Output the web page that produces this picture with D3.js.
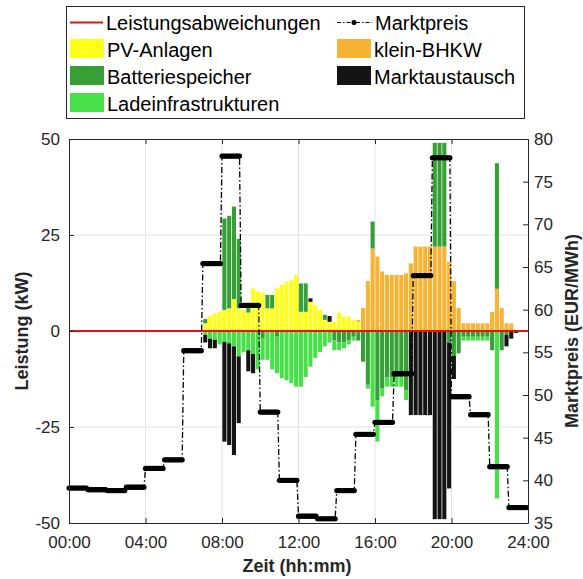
<!DOCTYPE html>
<html>
<head>
<meta charset="utf-8">
<script src="https://cdn.jsdelivr.net/npm/d3@7"></script>
<style>
  body { margin: 0; background: #fff; }
  svg { display: block; font-family: Arial, "Liberation Sans", sans-serif; }
</style>
</head>
<body>
<div class="chart"></div>
<script>
// axis ticks
const zeitTicks = [0, 4, 8, 12, 16, 20, 24];
const leistungTicks = [-50, -25, 0, 25, 50];
const preisTicks = [35, 40, 45, 50, 55, 60, 65, 70, 75, 80];

// market price per hour (EUR/MWh)
const marktpreis = [39.1, 38.9, 38.8, 39.2, 41.4, 42.4, 55.2, 65.4, 78.0, 60.5, 48.0, 40.0,
    35.8, 35.5, 38.8, 45.4, 46.8, 52.5, 64.0, 77.8, 49.8, 47.7, 41.6, 36.8];

// power per 15 min (kW), 96 values each
const pvAnlagen = [
    0, 0, 0, 0, 0, 0, 0, 0,
    0, 0, 0, 0, 0, 0, 0, 0,
    0, 0, 0, 0, 0, 0, 0, 0,
    0, 0, 0, 0, 2.0, 4.0, 4.6, 5.0,
    5.5, 5.9, 8.3, 5.9, 5.5, 4.8, 11.1, 10.2,
    10.0, 5.9, 5.9, 11.1, 12.0, 12.8, 13.3, 14.6,
    5.0, 5.0, 7.6, 6.8, 5.5, 2.9, 2.4, 2.4,
    4.8, 3.7, 3.7, 2.9, 2.4, 0, 0, 0,
    0, 0, 0, 0, 0, 0, 0, 0,
    0, 0, 0, 0, 0, 0, 0, 0,
    0, 0, 0, 0, 0, 0, 0, 0,
    0, 0, 0, 0, 0, 0, 0, 0
];
const kleinBhkw = [
    0, 0, 0, 0, 0, 0, 0, 0,
    0, 0, 0, 0, 0, 0, 0, 0,
    0, 0, 0, 0, 0, 0, 0, 0,
    0, 0, 0, 0, 0, 0, 0, 0,
    0, 0, 0, 0, 0, 0, 0, 0,
    0, 0, 0, 0, 0, 0, 0, 0,
    0, 0, 0, 0, 0, 0, 0, 0,
    0, 0, 0, 0, 0.5, 6, 13, 21.5,
    19.4, 15.5, 14.6, 14.6, 14.6, 14.6, 15, 17.6,
    22, 22, 22, 22, 22, 22, 22, 18,
    13, 6, 2, 2, 2, 2, 2, 2,
    5, 11, 6, 2, 2, 0, 0, 0
];
const batteriespeicher = [
    0, 0, 0, 0, 0, 0, 0, 0,
    0, 0, 0, 0, 0, 0, 0, 0,
    0, 0, 0, 0, 0, 0, 0, 0,
    0, 0, 0, 0, 1.1, 0, 0, 0,
    23.8, 24.1, 24.1, 18.1, 0, 1.2, 0, 0,
    -2, 3.5, 3.5, -1.5, 0, 0, 0, 0,
    7.4, 7.4, 0, 0, 0, 1.3, 0, -2.5,
    -3, -3, -2.5, -1.5, -2.5, -8, -14, 7,
    -18, -15, -12, -12, -12, -12, -15.5, 0,
    0, 0, 0, 0, 27, 27, 27, -3,
    -6.5, -5.8, -1.5, -1.5, -1.5, -1.5, -1.5, -1.5,
    -5, 32.7, -5, -1, 0, 0, 0, 0
];
const ladeinfrastrukturen = [
    0, 0, 0, 0, 0, 0, 0, 0,
    0, 0, 0, 0, 0, 0, 0, 0,
    0, 0, 0, 0, 0, 0, 0, 0,
    0, 0, 0, 0, -1, -2, -2.3, -3.5,
    -2.8, -3.2, -4, -6.6, -5.5, -5, -6, -10,
    -5.5, -7.5, -10, -9.5, -12.3, -12.8, -13.6, -14.5,
    -14.5, -12, -9.3, -7, -5.5, -4, -3, -2.5,
    -2, -1.5, -1, -1, 0, 0, -1, -19.7,
    -10.8, -2, -2.5, -2.5, -2.5, -2.5, -2.5, 0,
    0, 0, 0, 0, 0, 0, 0, 0,
    0, 0, -1, -1, -1, -1, -1, -1,
    0, -43.6, 0, 0, 0, 0, 0, 0
];
const marktaustausch = [
    0, 0, 0, 0, 0, 0, 0, 0,
    0, 0, 0, 0, 0, 0, 0, 0,
    0, 0, 0, 0, 0, 0, 0, 0,
    0, 0, 0, 0, -2, -2.5, -2.2, 0,
    -26, -26.5, -28.3, -17.4, 0, -5.5, -5, 0,
    0, 0, 0, 0, 0, 0, 0, 0,
    0, 0, 0.9, 0, 0, 0, 1.5, 0,
    0, 0, 0, 0, 0, 0, 0, 0,
    0, 0, 0, 0, 0, 0, 0, -21.9,
    -21.9, -21.9, -21.9, -21.9, -49, -49, -49, -38,
    -6, 0, 0, 0, 0, 0, 0, 0,
    0, 0, 0, -3, -2, -0.5, 0, 0
];

const serien = [
    {key: 'pv', name: 'PV-Anlagen', color: '#ffff1a', values: pvAnlagen},
    {key: 'bhkw', name: 'klein-BHKW', color: '#f7b334', values: kleinBhkw},
    {key: 'bat', name: 'Batteriespeicher', color: '#36a036', values: batteriespeicher},
    {key: 'lade', name: 'Ladeinfrastrukturen', color: '#48e048', values: ladeinfrastrukturen},
    {key: 'markt', name: 'Marktaustausch', color: '#141414', values: marktaustausch}
];
const farbe = {};
serien.forEach(s => farbe[s.key] = s.color);

const svg = d3.select('.chart').append('svg').attr('width', 583).attr('height', 579);

const x = d3.scaleLinear().domain([0, 24]).range([69, 528]);
const yL = d3.scaleLinear().domain([-50, 50]).range([523, 139]);
const yR = d3.scaleLinear().domain([35, 80]).range([523, 139]);
const axisColor = '#262626';

// grid
const grid = svg.append('g');
grid.selectAll('line.gx').data(zeitTicks.slice(1, -1)).enter().append('line')
    .attr('x1', d => x(d)).attr('x2', d => x(d)).attr('y1', 139).attr('y2', 523)
    .attr('stroke', '#e3e3e3').attr('stroke-width', 1);
grid.selectAll('line.gy').data(leistungTicks.slice(1, -1)).enter().append('line')
    .attr('x1', 69).attr('x2', 528).attr('y1', d => yL(d)).attr('y2', d => yL(d))
    .attr('stroke', '#e3e3e3').attr('stroke-width', 1);

// stacked bars
const rows = d3.range(96).map(function (i) {
    const r = {i: i};
    serien.forEach(s => r[s.key] = s.values[i]);
    return r;
});
const stacked = d3.stack().keys(serien.map(s => s.key)).offset(d3.stackOffsetDiverging)(rows);
const slotW = x(0.25) - x(0);

svg.append('g').selectAll('g').data(stacked).enter().append('g')
    .attr('fill', d => farbe[d.key])
    .selectAll('rect').data(d => d.filter(p => p[1] !== p[0])).enter().append('rect')
    .attr('x', d => x(d.data.i / 4) + 0.35)
    .attr('width', slotW - 0.7)
    .attr('y', d => yL(Math.max(d[0], d[1])))
    .attr('height', d => Math.abs(yL(d[0]) - yL(d[1])));

// zero line (Leistungsabweichungen)
svg.append('line').attr('x1', 69).attr('x2', 528).attr('y1', yL(0)).attr('y2', yL(0))
    .attr('stroke', '#e8120c').attr('stroke-width', 2.2);

// market price, hourly value held at 5-minute sample points
const preisPunkte = d3.range(24 * 12).map(i => ({t: i / 12, p: marktpreis[Math.floor(i / 12)]}));
svg.append('path').datum(preisPunkte)
    .attr('d', d3.line().x(d => x(d.t)).y(d => yR(d.p)))
    .attr('fill', 'none').attr('stroke', '#000').attr('stroke-width', 1.3)
    .attr('stroke-dasharray', '6,2.5,1.5,2.5');
svg.append('g').selectAll('circle').data(preisPunkte).enter().append('circle')
    .attr('cx', d => x(d.t)).attr('cy', d => yR(d.p)).attr('r', 2.6).attr('fill', '#000');

// axes
const styleAxis = function (g) {
    g.selectAll('path.domain').attr('stroke', axisColor);
    g.selectAll('.tick line').attr('stroke', axisColor);
    g.selectAll('.tick text').attr('fill', axisColor).style('font-size', '17px')
        .style('font-family', 'Arial, "Liberation Sans", sans-serif');
};
svg.append('g').attr('transform', 'translate(0,523)')
    .call(d3.axisBottom(x).tickValues(zeitTicks).tickSize(-5).tickSizeOuter(0).tickPadding(13)
        .tickFormat(d => d3.format('02d')(d) + ':00'))
    .call(styleAxis);
svg.append('g').attr('transform', 'translate(69,0)')
    .call(d3.axisLeft(yL).tickValues(leistungTicks).tickSize(-5).tickSizeOuter(0).tickPadding(9)
        .tickFormat(d => String(d)))
    .call(styleAxis);
svg.append('g').attr('transform', 'translate(528,0)')
    .call(d3.axisRight(yR).tickValues(preisTicks).tickSize(-5).tickSizeOuter(0).tickPadding(6))
    .call(styleAxis);
// top box line with ticks
svg.append('line').attr('x1', 69).attr('x2', 528).attr('y1', 139.5).attr('y2', 139.5).attr('stroke', axisColor);
svg.append('g').selectAll('line').data(zeitTicks).enter().append('line')
    .attr('x1', d => x(d) + 0.5).attr('x2', d => x(d) + 0.5).attr('y1', 139).attr('y2', 144).attr('stroke', axisColor);

// axis labels
svg.append('text').attr('x', 297).attr('y', 572).attr('text-anchor', 'middle')
    .style('font-size', '18px').style('font-weight', 'bold').attr('fill', axisColor).text('Zeit (hh:mm)');
svg.append('text').attr('transform', 'translate(28,331) rotate(-90)').attr('text-anchor', 'middle')
    .style('font-size', '18px').style('font-weight', 'bold').attr('fill', axisColor).text('Leistung (kW)');
svg.append('text').attr('transform', 'translate(578,331) rotate(-90)').attr('text-anchor', 'middle')
    .style('font-size', '18px').style('font-weight', 'bold').attr('fill', axisColor).text('Marktpreis (EUR/MWh)');

// legend
const legend = svg.append('g').attr('class', 'legend');
legend.append('rect').attr('x', 66.5).attr('y', 6.5).attr('width', 458).attr('height', 112)
    .attr('fill', '#fff').attr('stroke', axisColor).attr('stroke-width', 1);

const legendText = function (tx, ty, label) {
    legend.append('text').attr('x', tx).attr('y', ty).attr('dy', '0.35em')
        .style('font-size', '20px').attr('fill', '#000').text(label);
};
legend.append('line').attr('x1', 70).attr('x2', 103).attr('y1', 22.5).attr('y2', 22.5)
    .attr('stroke', '#e8120c').attr('stroke-width', 2);
legendText(106, 23, 'Leistungsabweichungen');
legend.append('line').attr('x1', 337).attr('x2', 372).attr('y1', 22.5).attr('y2', 22.5)
    .attr('stroke', '#000').attr('stroke-width', 1.2).attr('stroke-dasharray', '4,2,1.5,2');
legend.append('circle').attr('cx', 354).attr('cy', 22.5).attr('r', 2.5).attr('fill', '#000');
legendText(375, 23, 'Marktpreis');

const legendItems = [
    {s: serien[0], col: 0, row: 0},
    {s: serien[1], col: 1, row: 0},
    {s: serien[2], col: 0, row: 1},
    {s: serien[4], col: 1, row: 1},
    {s: serien[3], col: 0, row: 2}
];
legendItems.forEach(function (it) {
    const sx = it.col === 0 ? 70 : 337;
    const sy = 39 + it.row * 27;
    legend.append('rect').attr('x', sx).attr('y', sy).attr('width', 34).attr('height', 19)
        .attr('fill', it.s.color);
    legendText(sx + 37, sy + 10.5, it.s.name);
});
</script>
</body>
</html>
